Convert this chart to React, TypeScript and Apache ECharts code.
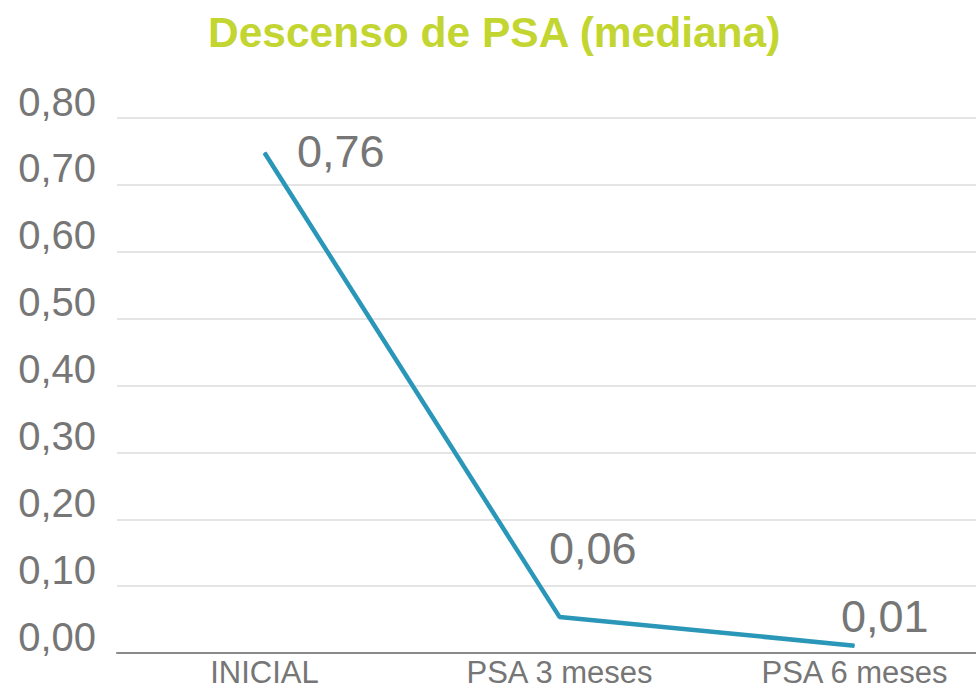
import React, { useEffect, useRef } from "react";
import * as echarts from "echarts";

const titleText = "Descenso de PSA (mediana)";
const categories = ["INICIAL", "PSA 3 meses", "PSA 6 meses"];
const medianValues = [0.748, 0.054, 0.011];
const valueLabels = ["0,76", "0,06", "0,01"];
const yMin = 0;
const yMax = 0.8;
const yInterval = 0.1;

const labelOffsets: [number, number][] = [
  [32, -1],
  [-11, -68],
  [-14, -29],
];

export default function App() {
  const ref = useRef<HTMLDivElement>(null);
  useEffect(() => {
    if (!ref.current) return;
    const chart = echarts.init(ref.current, undefined, { renderer: "svg" });
    const font = "'Liberation Sans', Arial, sans-serif";
    chart.setOption({
      animation: false,
      backgroundColor: "#ffffff",
      textStyle: { fontFamily: font },
      title: {
        text: titleText,
        left: 203,
        top: 6,
        textStyle: {
          color: "#c3d530",
          fontSize: 42.5,
          fontWeight: "bold",
          fontFamily: font,
        },
      },
      grid: { left: 117, top: 118, width: 885, height: 535 },
      xAxis: {
        type: "category",
        data: categories,
        boundaryGap: true,
        axisLine: { show: true, lineStyle: { color: "#8a8a8a", width: 2 } },
        axisTick: { show: false },
        axisLabel: {
          color: "#767676",
          fontSize: 31,
          lineHeight: 24,
          fontFamily: font,
          margin: 7,
          interval: 0,
        },
        splitLine: { show: false },
      },
      yAxis: {
        type: "value",
        min: yMin,
        max: yMax,
        interval: yInterval,
        axisLine: { show: false },
        axisTick: { show: false },
        axisLabel: {
          color: "#767676",
          fontSize: 40,
          fontFamily: font,
          margin: 21,
          verticalAlign: "bottom",
          lineHeight: 33,
          formatter: (v: number) => v.toFixed(2).replace(".", ","),
        },
        splitLine: { show: true, lineStyle: { color: "#dcdcdc", width: 1.5 } },
      },
      series: [
        {
          type: "line",
          data: medianValues.map((v, i) => ({
            value: v,
            label: { formatter: valueLabels[i], offset: labelOffsets[i] },
          })),
          symbol: "circle",
          symbolSize: 1,
          lineStyle: { color: "#2a97b9", width: 4.5 },
          itemStyle: { color: "#2a97b9" },
          label: {
            show: true,
            position: "right",
            distance: 0,
            color: "#767676",
            fontSize: 45,
            fontFamily: font,
          },
        },
      ],
    });
    return () => chart.dispose();
  }, []);
  return (
    <div
      style={{
        position: "absolute",
        left: 0,
        top: 0,
        width: 976,
        height: 689,
        overflow: "hidden",
        background: "#fff",
      }}
    >
      <div ref={ref} style={{ width: 1010, height: 689 }} />
    </div>
  );
}
